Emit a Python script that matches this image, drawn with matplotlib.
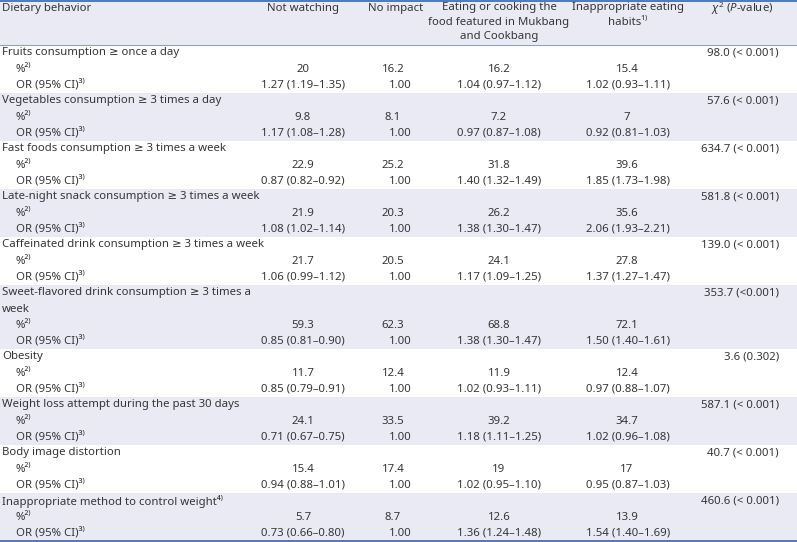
import matplotlib.pyplot as plt
from matplotlib.patches import Rectangle

plt.rcParams['font.family'] = ['Noto Sans', 'DejaVu Sans']
plt.rcParams['mathtext.fontset'] = 'custom'
plt.rcParams['mathtext.rm'] = 'Noto Sans'
plt.rcParams['mathtext.it'] = 'Noto Sans:italic'

# data
behaviors = [
    ["Fruits consumption ≥ once a day"],
    ["Vegetables consumption ≥ 3 times a day"],
    ["Fast foods consumption ≥ 3 times a week"],
    ["Late-night snack consumption ≥ 3 times a week"],
    ["Caffeinated drink consumption ≥ 3 times a week"],
    ["Sweet-flavored drink consumption ≥ 3 times a", "week"],
    ["Obesity"],
    ["Weight loss attempt during the past 30 days"],
    ["Body image distortion"],
    ["Inappropriate method to control weight⁴⁾"],
]
pct_not = ["20", "9.8", "22.9", "21.9", "21.7", "59.3", "11.7", "24.1", "15.4", "5.7"]
pct_noimp = ["16.2", "8.1", "25.2", "20.3", "20.5", "62.3", "12.4", "33.5", "17.4", "8.7"]
pct_eat = ["16.2", "7.2", "31.8", "26.2", "24.1", "68.8", "11.9", "39.2", "19", "12.6"]
pct_inapp = ["15.4", "7", "39.6", "35.6", "27.8", "72.1", "12.4", "34.7", "17", "13.9"]
or_not = ["1.27 (1.19–1.35)", "1.17 (1.08–1.28)", "0.87 (0.82–0.92)", "1.08 (1.02–1.14)",
          "1.06 (0.99–1.12)", "0.85 (0.81–0.90)", "0.85 (0.79–0.91)", "0.71 (0.67–0.75)",
          "0.94 (0.88–1.01)", "0.73 (0.66–0.80)"]
or_noimp = ["1.00"] * 10
or_eat = ["1.04 (0.97–1.12)", "0.97 (0.87–1.08)", "1.40 (1.32–1.49)", "1.38 (1.30–1.47)",
          "1.17 (1.09–1.25)", "1.38 (1.30–1.47)", "1.02 (0.93–1.11)", "1.18 (1.11–1.25)",
          "1.02 (0.95–1.10)", "1.36 (1.24–1.48)"]
or_inapp = ["1.02 (0.93–1.11)", "0.92 (0.81–1.03)", "1.85 (1.73–1.98)", "2.06 (1.93–2.21)",
            "1.37 (1.27–1.47)", "1.50 (1.40–1.61)", "0.97 (0.88–1.07)", "1.02 (0.96–1.08)",
            "0.95 (0.87–1.03)", "1.54 (1.40–1.69)"]
chi = ["98.0 (< 0.001)", "57.6 (< 0.001)", "634.7 (< 0.001)", "581.8 (< 0.001)",
       "139.0 (< 0.001)", "353.7 (<0.001)", "3.6 (0.302)", "587.1 (< 0.001)",
       "40.7 (< 0.001)", "460.6 (< 0.001)"]

W, H = 797, 542
fig = plt.figure(figsize=(W / 100, H / 100), dpi=100)
ax = fig.add_axes([0, 0, 1, 1])
ax.set_xlim(0, W)
ax.set_ylim(H, 0)
ax.axis('off')

txt = '#363636'
shade = '#e9eaf3'
blue = '#3f6fb5'
fs = 8.2

head_bot = 45
rh = 16

# 表头
ax.add_patch(Rectangle((0, 1), W, head_bot - 1, color=shade, lw=0))
hy = 9
ax.text(2, hy, "Dietary behavior", ha='left', va='center', fontsize=fs, color=txt)
ax.text(303, hy, "Not watching", ha='center', va='center', fontsize=fs, color=txt)
ax.text(396, hy, "No impact", ha='center', va='center', fontsize=fs, color=txt)
ax.text(499, 2, "Eating or cooking the\nfood featured in Mukbang\nand Cookbang", ha='center', va='top',
        fontsize=fs, color=txt, linespacing=1.45)
ax.text(628, 2, "Inappropriate eating\nhabits¹⁾", ha='center', va='top',
        fontsize=fs, color=txt, linespacing=1.45)
ax.text(742, hy, r"$\chi^2$ ($\mathit{P}$-value)", ha='center', va='center', fontsize=fs, color=txt)

# 各行
y = head_bot
for i, lines in enumerate(behaviors):
    n = len(lines) + 2
    if i % 2 == 1:
        ax.add_patch(Rectangle((0, y), W, n * rh, color=shade, lw=0))
    for j, line in enumerate(lines):
        ax.text(2, y + rh * (j + 0.5), line, ha='left', va='center', fontsize=fs, color=txt)
    ax.text(779, y + rh * 0.5, chi[i], ha='right', va='center', fontsize=fs, color=txt)
    yp = y + rh * (len(lines) + 0.5)
    yo = yp + rh
    ax.text(16, yp, "%²⁾", ha='left', va='center', fontsize=fs, color=txt)
    ax.text(16, yo, "OR (95% CI)³⁾", ha='left', va='center', fontsize=fs, color=txt)
    ax.text(303, yp, pct_not[i], ha='center', va='center', fontsize=fs, color=txt)
    ax.text(393, yp, pct_noimp[i], ha='center', va='center', fontsize=fs, color=txt)
    ax.text(499, yp, pct_eat[i], ha='center', va='center', fontsize=fs, color=txt)
    ax.text(627, yp, pct_inapp[i], ha='center', va='center', fontsize=fs, color=txt)
    ax.text(303, yo, or_not[i], ha='center', va='center', fontsize=fs, color=txt)
    ax.text(400, yo, or_noimp[i], ha='center', va='center', fontsize=fs, color=txt)
    ax.text(499, yo, or_eat[i], ha='center', va='center', fontsize=fs, color=txt)
    ax.text(628, yo, or_inapp[i], ha='center', va='center', fontsize=fs, color=txt)
    y += n * rh

ax.plot([0, W], [1, 1], color=blue, lw=1.3)
ax.plot([0, W], [head_bot, head_bot], color='#8fa3c8', lw=0.8)
ax.plot([0, W], [y, y], color=blue, lw=1.3)

fig.savefig('out.png', dpi=100)
